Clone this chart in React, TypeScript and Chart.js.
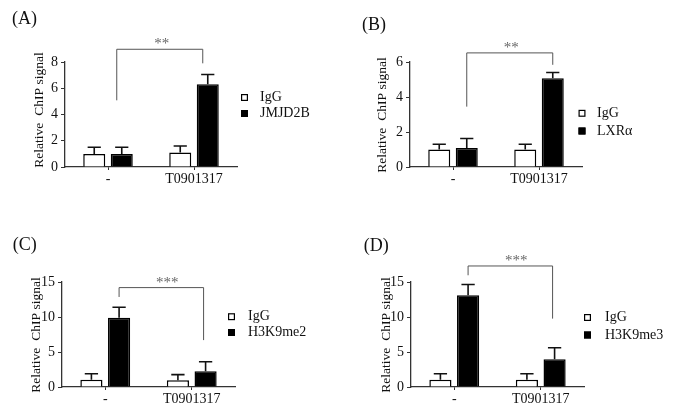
import React, { useEffect, useRef } from 'react';
import { Chart, registerables } from 'chart.js';

Chart.register(...registerables);

const SERIF = "'Liberation Serif', 'DejaVu Serif', serif";

// ---------- data ----------
const categories = ['-', 'T0901317'];

// Panel A
const iggA = [1.0, 1.1];
const iggErrA = [0.5, 0.5];
const jmjd2bA = [1.0, 6.3];
const jmjd2bErrA = [0.5, 0.75];
const yTicksA = [0, 2, 4, 6, 8];
const bracketA = [8.97, 5.08, 7.9]; // top, left end, right end (value units)

// Panel B
const iggB = [1.0, 1.0];
const iggErrB = [0.3, 0.3];
const lxrB = [1.08, 5.07];
const lxrErrB = [0.55, 0.33];
const yTicksB = [0, 2, 4, 6];
const bracketB = [6.52, 3.45, 5.84];

// Panel C
const iggC = [1.05, 0.95];
const iggErrC = [0.85, 0.82];
const me2C = [9.9, 2.25];
const me2ErrC = [1.5, 1.35];
const yTicksC = [0, 5, 10, 15];
const bracketC = [14.2, 12.86, 6.7];

// Panel D
const iggD = [1.05, 1.05];
const iggErrD = [0.85, 0.85];
const me3D = [13.1, 3.95];
const me3ErrD = [1.55, 1.65];
const yTicksD = [0, 5, 10, 15];
const bracketD = [17.29, 15.96, 9.77];

const panelLabels = ['(A)', '(B)', '(C)', '(D)'];
const targetLabels = ['JMJD2B', 'LXRα', 'H3K9me2', 'H3K9me3'];
const starLabels = ['**', '**', '***', '***'];
const yTitleWords = ['Relative', 'ChIP signal'];

// ---------- layout ----------
const panels = [
  {
    canvas: { x: 0, y: 0, w: 337, h: 200 },
    area: { left: 65, right: 237, top: 62, bottom: 167 },
    titlePos: { x: 38, y: 110 },
    label: { x: 12, y: 19 },
    legend: { x: 241, y: [97.5, 113.5], tx: 260 },
    bracketDx: [-5, -5], starDx: 2,
    igg: iggA, iggErr: iggErrA, tgt: jmjd2bA, tgtErr: jmjd2bErrA, ticks: yTicksA, bracket: bracketA,
  },
  {
    canvas: { x: 337, y: 0, w: 337, h: 200 },
    area: { left: 73, right: 245, top: 62, bottom: 167 },
    titlePos: { x: 44, y: 115 },
    label: { x: 25, y: 25 },
    legend: { x: 241.5, y: [113.3, 131], tx: 260 },
    bracketDx: [0, 0], starDx: 1.5,
    igg: iggB, iggErr: iggErrB, tgt: lxrB, tgtErr: lxrErrB, ticks: yTicksB, bracket: bracketB,
  },
  {
    canvas: { x: 0, y: 200, w: 337, h: 215 },
    area: { left: 62, right: 235, top: 82, bottom: 187 },
    titlePos: { x: 35, y: 135 },
    label: { x: 12.7, y: 45 },
    legend: { x: 228, y: [116.7, 132.5], tx: 248 },
    bracketDx: [0, -2], starDx: 6,
    igg: iggC, iggErr: iggErrC, tgt: me2C, tgtErr: me2ErrC, ticks: yTicksC, bracket: bracketC,
  },
  {
    canvas: { x: 337, y: 200, w: 337, h: 215 },
    area: { left: 74, right: 247, top: 82, bottom: 187 },
    titlePos: { x: 48.5, y: 135 },
    label: { x: 26.7, y: 46 },
    legend: { x: 247, y: [117.5, 135], tx: 268 },
    bracketDx: [0, -2], starDx: 6,
    igg: iggD, iggErr: iggErrD, tgt: me3D, tgtErr: me3ErrD, ticks: yTicksD, bracket: bracketD,
  },
];

const figurePlugin = {
  id: 'figure',
  afterDraw(chart: any, _args: any, opts: any) {
    const { ctx } = chart;
    const ys = chart.scales.y;
    ctx.save();

    // error bars (upward only)
    opts.errors.forEach((errs: number[], di: number) => {
      const meta = chart.getDatasetMeta(di);
      const vals = chart.data.datasets[di].data;
      meta.data.forEach((bar: any, i: number) => {
        const yBase = ys.getPixelForValue(vals[i]);
        const yTop = ys.getPixelForValue(vals[i] + errs[i]);
        const cw = bar.width * 0.6;
        ctx.strokeStyle = '#111';
        ctx.lineWidth = 1.6;
        ctx.beginPath();
        ctx.moveTo(bar.x, yBase);
        ctx.lineTo(bar.x, yTop);
        ctx.moveTo(bar.x - cw / 2, yTop);
        ctx.lineTo(bar.x + cw / 2, yTop);
        ctx.stroke();
      });
    });

    // significance bracket
    const m = chart.getDatasetMeta(1);
    const x1 = m.data[0].x + opts.bracketDx[0];
    const x2 = m.data[1].x + opts.bracketDx[1];
    const [bt, bl, br] = opts.bracket;
    const yt = ys.getPixelForValue(bt);
    ctx.strokeStyle = '#555';
    ctx.lineWidth = 1;
    ctx.beginPath();
    ctx.moveTo(x1, ys.getPixelForValue(bl));
    ctx.lineTo(x1, yt);
    ctx.lineTo(x2, yt);
    ctx.lineTo(x2, ys.getPixelForValue(br));
    ctx.stroke();
    ctx.fillStyle = '#666';
    ctx.font = `15px ${SERIF}`;
    ctx.textAlign = 'center';
    ctx.textBaseline = 'alphabetic';
    ctx.fillText(opts.stars, (x1 + x2) / 2 + opts.starDx, yt - 1);

    // y-axis title (rotated), words on a shared baseline
    ctx.save();
    ctx.translate(opts.titlePos.x, opts.titlePos.y);
    ctx.rotate(-Math.PI / 2);
    ctx.fillStyle = '#111';
    ctx.font = `13.5px ${SERIF}`;
    ctx.textAlign = 'left';
    ctx.textBaseline = 'alphabetic';
    const gap = 7;
    const w0 = ctx.measureText(opts.title[0]).width;
    const w1 = ctx.measureText(opts.title[1]).width;
    const total = w0 + gap + w1;
    const base = 4.5;
    ctx.fillText(opts.title[0], -total / 2, base);
    ctx.fillText(opts.title[1], -total / 2 + w0 + gap, base);
    ctx.restore();

    // legend
    const lg = opts.legend;
    chart.data.datasets.forEach((ds: any, di: number) => {
      const cy = lg.y[di];
      ctx.fillStyle = ds.backgroundColor;
      ctx.fillRect(lg.x, cy - 3.5, 7, 7);
      ctx.strokeStyle = '#000';
      ctx.lineWidth = 1.2;
      ctx.strokeRect(lg.x + 0.6, cy - 2.9, 5.8, 5.8);
      ctx.fillStyle = '#111';
      ctx.font = `14px ${SERIF}`;
      ctx.textAlign = 'left';
      ctx.textBaseline = 'middle';
      ctx.fillText(ds.label, lg.tx, cy);
    });

    // panel label
    ctx.fillStyle = '#111';
    ctx.font = `18px ${SERIF}`;
    ctx.textAlign = 'left';
    ctx.textBaseline = 'middle';
    ctx.fillText(opts.label, opts.labelPos.x, opts.labelPos.y);

    ctx.restore();
  },
};

function Panel({ idx }: { idx: number }) {
  const ref = useRef<HTMLCanvasElement | null>(null);
  const p = panels[idx];

  useEffect(() => {
    if (!ref.current) return;
    const W = p.canvas.w;
    const H = p.canvas.h;
    const t = p.ticks;
    const chart = new Chart(ref.current, {
      type: 'bar',
      data: {
        labels: categories,
        datasets: [
          {
            label: 'IgG',
            data: p.igg,
            backgroundColor: '#ffffff',
            borderColor: '#000000',
            borderWidth: 1.5,
            categoryPercentage: 0.64,
            barPercentage: 0.8,
          },
          {
            label: targetLabels[idx],
            data: p.tgt,
            backgroundColor: '#000000',
            borderColor: '#000000',
            borderWidth: 1.5,
            categoryPercentage: 0.64,
            barPercentage: 0.8,
          },
        ],
      },
      options: {
        responsive: false,
        animation: false,
        devicePixelRatio: 1,
        layout: { padding: { left: 0, top: p.area.top, right: W - p.area.right, bottom: 0 } },
        plugins: {
          legend: { display: false },
          tooltip: { enabled: false },
          figure: {
            errors: [p.iggErr, p.tgtErr],
            bracket: p.bracket,
            bracketDx: p.bracketDx,
            starDx: p.starDx,
            stars: starLabels[idx],
            legend: p.legend,
            label: panelLabels[idx],
            labelPos: p.label,
            title: yTitleWords,
            titlePos: p.titlePos,
          },
        } as any,
        scales: {
          x: {
            type: 'category',
            offset: true,
            grid: { offset: false, drawOnChartArea: false, drawTicks: true, tickLength: 3, color: '#333', lineWidth: 1 },
            border: { display: true, color: '#333', width: 1.3 },
            ticks: { font: { family: SERIF, size: 14 }, color: '#111', padding: 1, autoSkip: false, maxRotation: 0 },
            afterFit: (s: any) => { s.height = H - p.area.bottom; },
          },
          y: {
            min: t[0],
            max: t[t.length - 1],
            ticks: { stepSize: t[1] - t[0], font: { family: SERIF, size: 14 }, color: '#111', padding: 3 },
            grid: { drawOnChartArea: false, drawTicks: true, tickLength: 4, color: '#333', lineWidth: 1 },
            border: { display: true, color: '#333', width: 1.3 },
            title: { display: false },
            afterFit: (s: any) => { s.width = p.area.left; },
          },
        },
      },
      plugins: [figurePlugin],
    } as any);
    return () => chart.destroy();
  }, [idx]);

  return (
    <canvas
      ref={ref}
      width={p.canvas.w}
      height={p.canvas.h}
      style={{ position: 'absolute', left: p.canvas.x, top: p.canvas.y, width: p.canvas.w, height: p.canvas.h }}
    />
  );
}

export default function App() {
  return (
    <div style={{ position: 'absolute', left: 0, top: 0, width: 674, height: 415, background: '#ffffff', overflow: 'hidden' }}>
      {panels.map((_, i) => (
        <Panel key={i} idx={i} />
      ))}
    </div>
  );
}
